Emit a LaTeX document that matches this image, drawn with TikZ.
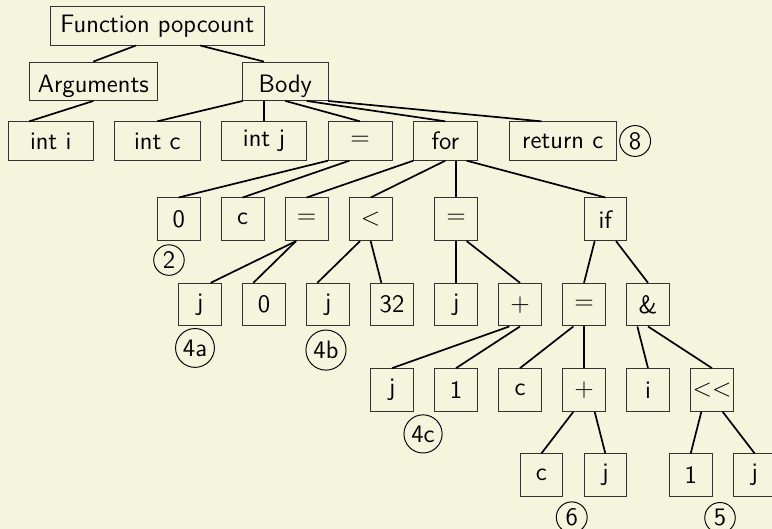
\documentclass[tikz,border=0pt]{standalone}
\usepackage{tikz}
\definecolor{bgcream}{RGB}{245,245,222}
\begin{document}
\begin{tikzpicture}[x=10pt,y=-10pt,
  font=\fontsize{11.8}{14}\selectfont\sffamily,
  box/.style={draw=black!80, line width=0.45pt, rectangle, inner sep=0pt, minimum height=18pt},
  sq/.style={box, minimum width=20pt, minimum height=20pt},
  tall/.style={text height=10.8pt, text depth=0pt},
  lnk/.style={line width=0.8pt, black},
  num/.style={circle, draw=black, line width=0.45pt, inner sep=1.6pt}]
\fill[bgcream] (0,0) rectangle (36.1875,24.797);
\useasboundingbox (0,0) rectangle (36.1875,24.797);
% row 0
\node[box, minimum width=100pt] (fp) at (7.375,1.21) {Function popcount};
% row 1
\node[box, tall, minimum width=60pt] (args) at (4.375,3.81) {Arguments};
\node[box, tall, minimum width=40pt] (body) at (13.375,3.81) {Body};
% row 2
\node[box, minimum width=40pt] (inti) at (2.375,6.61) {int i};
\node[box, minimum width=40pt] (intc) at (7.375,6.61) {int c};
\node[box, minimum width=40pt] (intj) at (12.375,6.61) {int j};
\node[box, minimum width=30pt] (eqa) at (16.875,6.61) {$=$};
\node[box, minimum width=30pt] (for) at (20.875,6.61) {for};
\node[box, minimum width=50pt] (ret) at (26.375,6.61) {return c};
% row 3
\node[sq] (zero) at (8.375,10.28) {0};
\node[sq] (cc) at (11.375,10.28) {c};
\node[sq] (eqb) at (14.375,10.28) {$=$};
\node[sq] (lt) at (17.375,10.28) {$<$};
\node[sq] (eqc) at (21.375,10.28) {$=$};
\node[sq] (if) at (28.375,10.28) {if};
% row 4
\node[sq] (ja) at (9.375,14.28) {j};
\node[sq] (zb) at (12.375,14.28) {0};
\node[sq] (jb) at (15.375,14.28) {j};
\node[sq] (n32) at (18.375,14.28) {32};
\node[sq] (jc) at (21.375,14.28) {j};
\node[sq] (plusa) at (24.375,14.28) {$+$};
\node[sq] (eqd) at (27.375,14.28) {$=$};
\node[sq] (amp) at (30.375,14.28) {\&};
% row 5
\node[sq] (jd) at (18.375,18.28) {j};
\node[sq] (one) at (21.375,18.28) {1};
\node[sq] (cd) at (24.375,18.28) {c};
\node[sq] (plusb) at (27.375,18.28) {$+$};
\node[sq] (ii) at (30.375,18.28) {i};
\node[sq] (shl) at (33.375,18.28) {$<<$};
% row 6
\node[sq] (ce) at (25.375,22.28) {c};
\node[sq] (je) at (28.375,22.28) {j};
\node[sq] (oneb) at (32.375,22.28) {1};
\node[sq] (jf) at (35.375,22.28) {j};
% circled numbers
\node[num] (c8) at (29.77,6.61) {8};
\node[num] (c2) at (7.92,12.19) {2};
\node[num] (c4a) at (9.14,16.31) {4a};
\node[num] (c4b) at (15.28,16.41) {4b};
\node[num] (c4c) at (19.83,20.34) {4c};
\node[num] (c6) at (26.80,24.25) {6};
\node[num] (c5) at (33.75,24.27) {5};
% edges
\draw[lnk] ([xshift=-10pt]fp.south) -- (args.north);
\draw[lnk] ([xshift=20pt]fp.south) -- ([xshift=-10pt]body.north);
\draw[lnk] (args.south) -- ([xshift=-10pt]inti.north);
\draw[lnk] ([xshift=-20pt]body.south) -- (intc.north);
\draw[lnk] ([xshift=-10pt]body.south) -- (intj.north);
\draw[lnk] (body.south) -- (eqa.north);
\draw[lnk] ([xshift=10pt]body.south) -- (for.north);
\draw[lnk] ([xshift=20pt]body.south) -- ([xshift=-10pt]ret.north);
\draw[lnk] ([xshift=-15pt]eqa.south) -- (zero.north);
\draw[lnk] ([xshift=-5pt]eqa.south) -- (cc.north);
\draw[lnk] ([xshift=-15pt]for.south) -- (eqb.north);
\draw[lnk] (for.south) -- (lt.north);
\draw[lnk] ([xshift=5pt]for.south) -- (eqc.north);
\draw[lnk] ([xshift=10pt]for.south) -- (if.north);
\draw[lnk] ([xshift=-5pt]eqb.south) -- ([xshift=5pt]ja.north);
\draw[lnk] ([xshift=-5pt]eqb.south) -- ([xshift=-5pt]zb.north);
\draw[lnk] ([xshift=-5pt]lt.south) -- ([xshift=-5pt]jb.north);
\draw[lnk] (lt.south) -- ([xshift=-5pt]n32.north);
\draw[lnk] (eqc.south) -- (jc.north);
\draw[lnk] ([xshift=5pt]eqc.south) -- (plusa.north);
\draw[lnk] ([xshift=-5pt]if.south) -- (eqd.north);
\draw[lnk] ([xshift=5pt]if.south) -- (amp.north);
\draw[lnk] ([xshift=-5pt]plusa.south) -- (jd.north);
\draw[lnk] (plusa.south) -- (one.north);
\draw[lnk] ([xshift=-5pt]eqd.south) -- (cd.north);
\draw[lnk] (eqd.south) -- (plusb.north);
\draw[lnk] ([xshift=-5pt]amp.south) -- (ii.north);
\draw[lnk] (amp.south) -- (shl.north);
\draw[lnk] ([xshift=-5pt]plusb.south) -- (ce.north);
\draw[lnk] ([xshift=5pt]plusb.south) -- (je.north);
\draw[lnk] ([xshift=-5pt]shl.south) -- (oneb.north);
\draw[lnk] ([xshift=5pt]shl.south) -- (jf.north);
\end{tikzpicture}
\end{document}
